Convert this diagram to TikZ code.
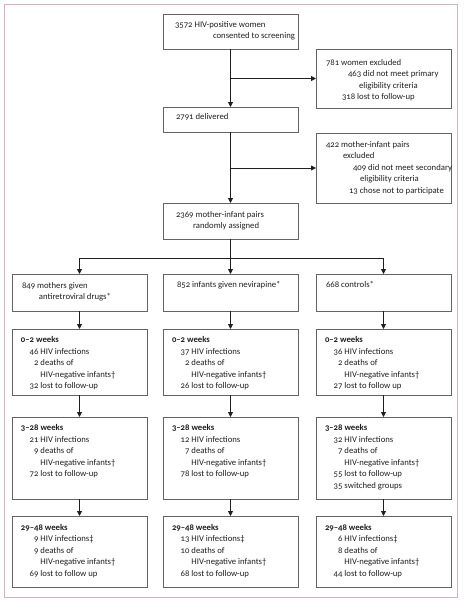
\documentclass[tikz,border=0pt]{standalone}
\usepackage{fontspec}
\setmainfont{Carlito}[Numbers=OldStyle]
\usetikzlibrary{arrows.meta}

\definecolor{boxgray}{RGB}{100,100,100}
\definecolor{ink}{RGB}{30,30,30}
\definecolor{framepink}{RGB}{216,176,196}

% box body: height, top pad, lines
\newcommand{\cbox}[3]{\makebox[135pt][l]{\parbox[c][#1pt][t]{250pt}{\raggedright\fontsize{8.7pt}{11.5pt}\selectfont\vspace*{#2pt}#3}}}
\newcommand{\ind}[1]{\hspace*{#1pt}}
\newcommand{\wk}[1]{\ind{9}\textbf{#1}}
\newcommand{\stat}[2]{\ind{17}\makebox[9.5pt][r]{#1}\ #2}

\begin{document}
\begin{tikzpicture}[x=1pt,y=-1pt,
    every node/.style={inner sep=0pt,outer sep=0pt,anchor=north west,text=ink},
    flow/.style={draw=boxgray,line width=0.8pt},
    arr/.style={draw=ink,line width=0.8pt,-{Triangle[length=5pt,width=5pt]}}]

    \useasboundingbox (0,0) rectangle (464,600);
    \draw[framepink,line width=1pt] (4,4.5) rectangle (457.5,597);

    % enrolment
    \node[flow] (screen) at (163,14) {\cbox{35}{7}{\ind{12}3572 HIV-positive women\\\ind{50}consented to screening}};
    \node[flow] (exclA) at (316,49) {\cbox{59}{10}{\ind{10}781 women excluded\\\ind{32}463 did not meet primary\\\ind{43}eligibility criteria\\\ind{26}318 lost to follow-up}};
    \node[flow] (deliv) at (163,107) {\cbox{25}{6}{\ind{13}2791 delivered}};
    \node[flow] (exclB) at (316,133) {\cbox{70}{8}{\ind{10}422 mother-infant pairs\\\ind{27}excluded\\\ind{37}409 did not meet secondary\\\ind{44}eligibility criteria\\\ind{33}13 chose not to participate}};
    \node[flow] (rand) at (163,203) {\cbox{36}{8}{\ind{13}2369 mother-infant pairs\\\ind{30}randomly assigned}};

    % groups
    \node[flow] (mom) at (12,274) {\cbox{37}{8}{\ind{10}849 mothers given\\\ind{27}antiretroviral drugs*}};
    \node[flow] (inf) at (163,274) {\cbox{37}{7}{\ind{14}852 infants given nevirapine*}};
    \node[flow] (ctl) at (316,274) {\cbox{37}{7}{\ind{10}668 controls*}};

    % 0--2 weeks
    \node[flow] (mom1) at (12,329) {\cbox{66}{7.5}{\wk{0--2 weeks}\\\stat{46}{HIV infections}\\\stat{2}{deaths of}\\\stat{}{HIV-negative infants\textdagger}\\\stat{32}{lost to follow-up}}};
    \node[flow] (inf1) at (163,329) {\cbox{66}{7.5}{\wk{0--2 weeks}\\\stat{37}{HIV infections}\\\stat{2}{deaths of}\\\stat{}{HIV-negative infants\textdagger}\\\stat{26}{lost to follow-up}}};
    \node[flow] (ctl1) at (316,329) {\cbox{66}{7.5}{\wk{0--2 weeks}\\\stat{36}{HIV infections}\\\stat{2}{deaths of}\\\stat{}{HIV-negative infants\textdagger}\\\stat{27}{lost to follow up}}};

    % 3--28 weeks
    \node[flow] (mom2) at (12,417) {\cbox{82}{7.5}{\wk{3--28 weeks}\\\stat{21}{HIV infections}\\\stat{9}{deaths of}\\\stat{}{HIV-negative infants\textdagger}\\\stat{72}{lost to follow-up}}};
    \node[flow] (inf2) at (163,417) {\cbox{82}{7.5}{\wk{3--28 weeks}\\\stat{12}{HIV infections}\\\stat{7}{deaths of}\\\stat{}{HIV-negative infants\textdagger}\\\stat{78}{lost to follow-up}}};
    \node[flow] (ctl2) at (316,417) {\cbox{82}{7.5}{\wk{3--28 weeks}\\\stat{32}{HIV infections}\\\stat{7}{deaths of}\\\stat{}{HIV-negative infants\textdagger}\\\stat{55}{lost to follow-up}\\\stat{35}{switched groups}}};

    % 29--48 weeks
    \node[flow] (mom3) at (12,516) {\cbox{71}{8}{\wk{29--48 weeks}\\\stat{9}{HIV infections\textdaggerdbl}\\\stat{9}{deaths of}\\\stat{}{HIV-negative infants\textdagger}\\\stat{69}{lost to follow up}}};
    \node[flow] (inf3) at (163,516) {\cbox{71}{8}{\wk{29--48 weeks}\\\stat{13}{HIV infections\textdaggerdbl}\\\stat{10}{deaths of}\\\stat{}{HIV-negative infants\textdagger}\\\stat{68}{lost to follow-up}}};
    \node[flow] (ctl3) at (316,516) {\cbox{71}{8}{\wk{29--48 weeks}\\\stat{6}{HIV infections\textdaggerdbl}\\\stat{8}{deaths of}\\\stat{}{HIV-negative infants\textdagger}\\\stat{44}{lost to follow-up}}};

    % connectors
    \draw[arr] (screen) -- (deliv);
    \draw[arr] (screen.south |- exclA.west) -- (exclA.west);
    \draw[arr] (deliv) -- (rand);
    \draw[arr] (deliv.south |- exclB.west) -- (exclB.west);

    \coordinate (split) at (230.5,258);
    \draw[arr] (rand) -- (inf);
    \draw[arr] (split) -| (mom);
    \draw[arr] (split) -| (ctl);

    \foreach \c in {mom,inf,ctl} {
        \draw[arr] (\c) -- (\c1);
        \draw[arr] (\c1) -- (\c2);
        \draw[arr] (\c2) -- (\c3);
    }

\end{tikzpicture}
\end{document}
